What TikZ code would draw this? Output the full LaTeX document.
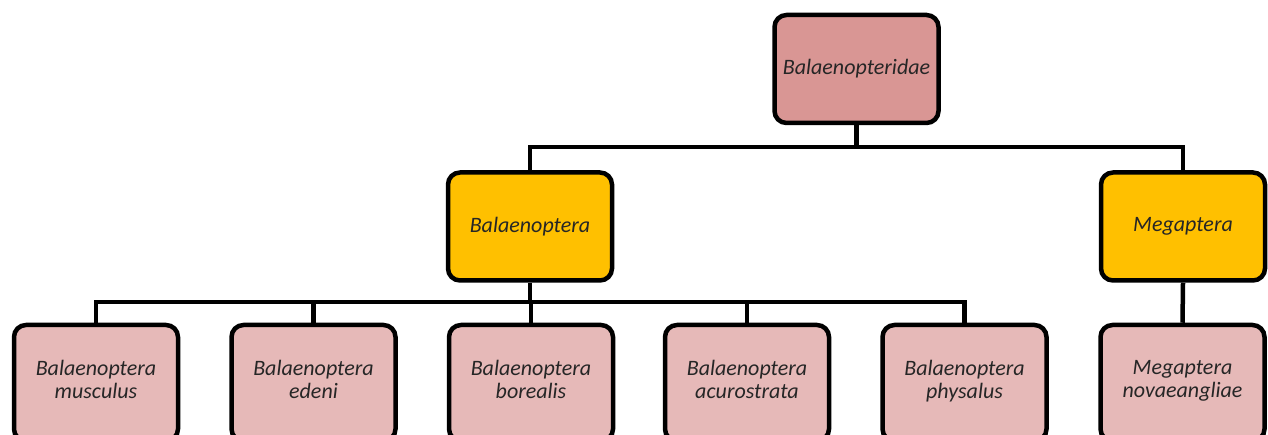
\documentclass[tikz,border=0pt]{standalone}
\usepackage{fontspec}
\setmainfont{Carlito}
\begin{document}
\begin{tikzpicture}[x=1pt,y=-1pt,
  box/.style={draw=black, line width=4.5pt, rounded corners=12pt,
    minimum width=164pt, minimum height=108pt, inner sep=0pt, align=center,
    font=\fontsize{22}{23}\selectfont\itshape, text=black!85},
  famc/.style={box, fill=famfill},
  genc/.style={box, fill=genfill},
  spc/.style={box, fill=spfill, text width=160pt, minimum height=116pt, text depth=31pt},
  link/.style={draw=black, line width=4.5pt}]
\definecolor{famfill}{HTML}{D99694}
\definecolor{genfill}{HTML}{FFC000}
\definecolor{spfill}{HTML}{E6B9B8}
\useasboundingbox (0,0) rectangle (1268,435);
\node[famc] (fam) at (856.5,69) {Balaenopteridae};
\node[genc] (bal) at (530,226.5) {Balaenoptera};
\node[genc] (meg) at (1183,226.5) {Megaptera};
\node[spc] (s1) at (96,383) {Balaenoptera\\musculus};
\node[spc] (s2) at (313.5,383) {Balaenoptera\\edeni};
\node[spc] (s3) at (531,383) {Balaenoptera\\borealis};
\node[spc] (s4) at (747,383) {Balaenoptera\\acurostrata};
\node[spc] (s5) at (964.5,383) {Balaenoptera\\physalus};
\node[spc] (s6) at (1182.5,383) {Megaptera\\novaeangliae};
\coordinate (bus1) at (0,147);
\coordinate (bus2) at (0,302);
\draw[link] (fam.south) -- (fam.south |- bus1);
\draw[link] (bal.north) |- (meg.north |- bus1) -- (meg.north);
\draw[link] (bal.south) -- (bal.south |- bus2);
\draw[link] (s1.north) |- (s5.north |- bus2) -- (s5.north);
\draw[link] (s2.north) -- (s2.north |- bus2);
\draw[link] (s3.north) -- (s3.north |- bus2);
\draw[link] (s4.north) -- (s4.north |- bus2);
\draw[link] (meg.south) -- (s6.north);
\end{tikzpicture}
\end{document}
